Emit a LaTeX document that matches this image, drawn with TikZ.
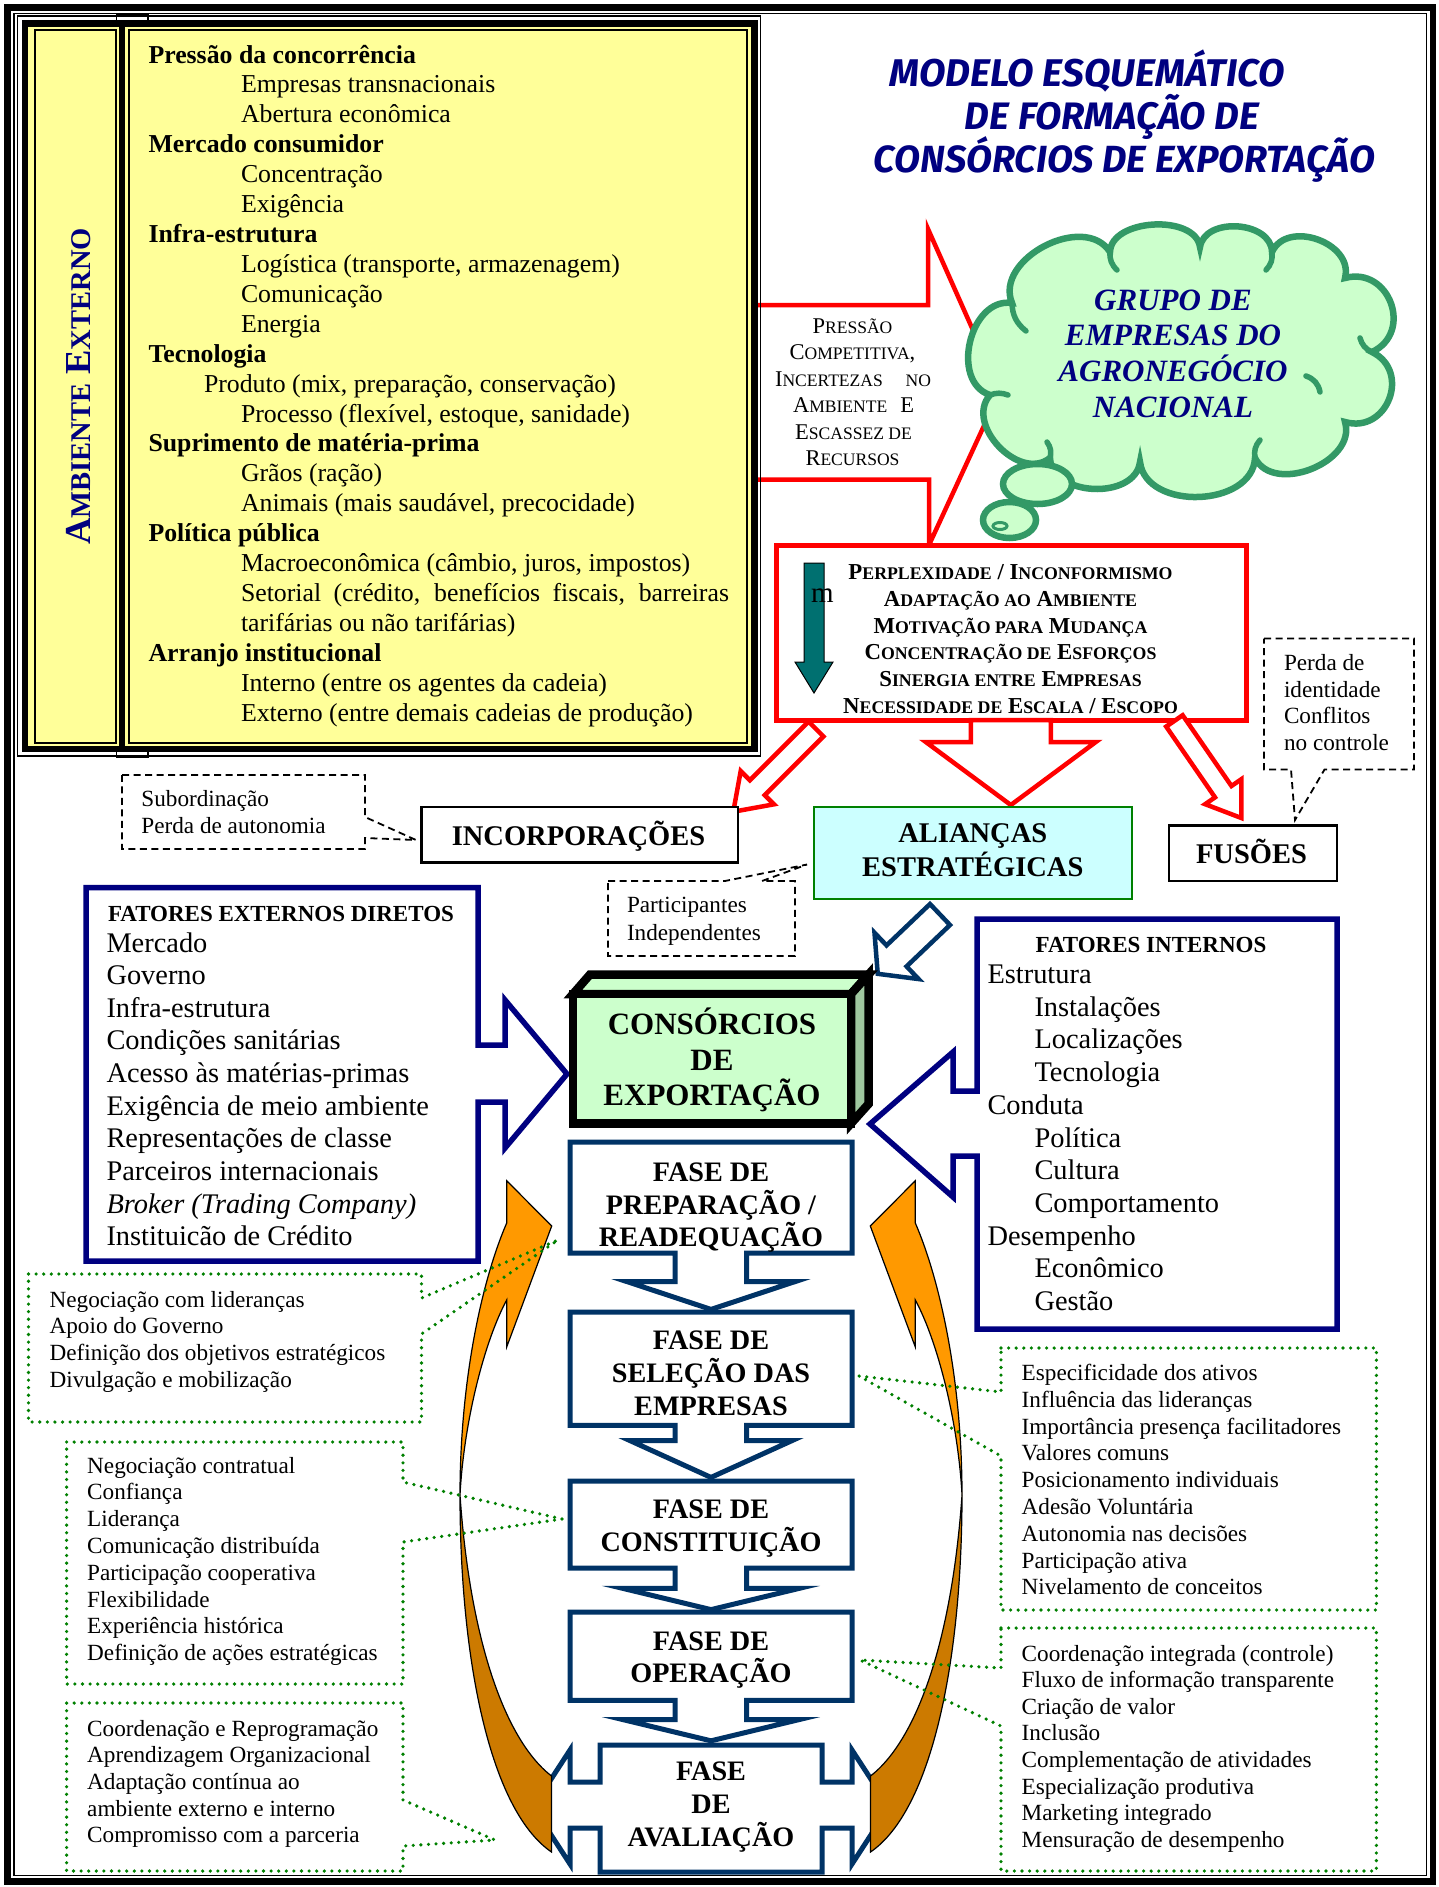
\documentclass[tikz,border=0pt]{standalone}
\usepackage{fontspec}
\setmainfont{Liberation Serif}
\newfontfamily\titlefont{Fira Sans}
\usepackage{graphicx}
\usetikzlibrary{calc}

\definecolor{navy}{RGB}{0,0,128}
\definecolor{phaseblue}{RGB}{0,51,102}
\definecolor{lightyellow}{RGB}{255,255,153}
\definecolor{cloudgreen}{RGB}{51,153,102}
\definecolor{palegreen}{RGB}{204,255,204}
\definecolor{sidegreen}{RGB}{160,200,160}
\definecolor{palecyan}{RGB}{204,255,255}
\definecolor{dotgreen}{RGB}{0,128,0}
\definecolor{tealarrow}{RGB}{0,112,112}
\definecolor{orangeA}{RGB}{255,153,0}
\definecolor{orangeB}{RGB}{204,122,0}

% fake small capitals (the serif font has no real ones)
\makeatletter
\newcommand\fsc[1]{{\fontsize{\fpeval{0.78*\f@size}}{0}\selectfont #1}}
\makeatother
\newcommand\fsz[1]{\fontsize{#1}{#1}\selectfont}

% block arrow: [style]{tail}{angle}{length}{shaft width}{head width}{head length}
\newcommand\blockarrow[7][]{%
  \draw[#1,shift={#2},rotate=#3] (0,-#5/2) -- ({#4-#7},-#5/2) -- ({#4-#7},-#6/2)
    -- (#4,0) -- ({#4-#7},#6/2) -- ({#4-#7},#5/2) -- (0,#5/2) -- cycle;}

\tikzset{
  t/.style={inner sep=0pt, outer sep=0pt},
  yl/.style={t, anchor=base west, font=\fsz{25.8}},
  lst/.style={t, anchor=base west, font=\fsz{28.4}},
  note/.style={t, anchor=base west, font=\fsz{23.2}},
  phasetxt/.style={t, anchor=base, font=\fsz{28.2}\bfseries},
  bigtxt/.style={t, anchor=base, font=\fsz{28.5}\bfseries},
  redtxt/.style={t, anchor=base, font=\fsz{22.8}\bfseries},
  arrtxt/.style={t, anchor=base, font=\fsz{22.5}},
  cloudtxt/.style={t, anchor=base, font=\fsz{31}\bfseries\itshape, text=navy},
  redline/.style={draw=red, line width=4.5pt, fill=white},
  phasebox/.style={draw=phaseblue, line width=5pt, fill=white},
  fatbox/.style={draw=navy, line width=5.5pt, fill=white},
  dotnote/.style={draw=dotgreen, line width=3.6pt, line cap=round, dash pattern=on 0pt off 7.6pt},
  dashnote/.style={draw=black, line width=1.8pt, dash pattern=on 7pt off 4.5pt},
  cloudline/.style={draw=cloudgreen, line width=6.5pt},
  cloudfold/.style={draw=cloudgreen, line width=5.5pt, line cap=round},
  orangeline/.style={draw=black, line width=1.2pt},
}

\begin{document}
\begin{tikzpicture}[x=1pt,y=-1pt]
\useasboundingbox (0,0) rectangle (1439,1887);
\fill[white] (0,0) rectangle (1439,1887);

% page frame
\draw[line width=6.5pt] (7.5,7.5) rectangle (1433,1881.5);
\draw[line width=1.5pt] (14,13.5) rectangle (1426.5,1875.5);

% big red arrow towards the cloud
\draw[redline] (745,305) -- (928,305) -- (928,229) -- (1000,391) -- (929,545) -- (929,479.5) -- (745,479.5);

% external environment panel
\draw[line width=1.2pt] (116.3,23) -- (116.3,14.5) -- (148,14.5) -- (148,23);
\draw[line width=1.2pt] (116.3,749) -- (116.3,757.5) -- (148,757.5) -- (148,749);
\draw[line width=1.5pt] (17.5,16) rectangle (760.5,756);
\draw[line width=6.5pt, fill=lightyellow] (25,23.5) rectangle (754.5,749);
\draw[line width=2pt] (34.5,29.5) rectangle (115.8,743);
\draw[line width=2pt] (128.5,29.5) rectangle (746.5,743);
\draw[line width=6pt] (122,23.5) -- (122,749);

\node[t, rotate=90, text=navy, font=\fsz{36.6}\bfseries] (ambiente) at (78.5,386.5)
  {A\fsc{MBIENTE} E\fsc{XTERNO}};

\foreach \dx/\tx [count=\i from 0] in {
  0/{\bfseries Pressão da concorrência},
  92.5/{Empresas transnacionais},
  92.5/{Abertura econômica},
  0/{\bfseries Mercado consumidor},
  92.5/{Concentração},
  92.5/{Exigência},
  0/{\bfseries Infra-estrutura},
  92.5/{Logística (transporte, armazenagem)},
  92.5/{Comunicação},
  92.5/{Energia},
  0/{\bfseries Tecnologia},
  55.5/{Produto (mix, preparação, conservação)},
  92.5/{Processo (flexível, estoque, sanidade)},
  0/{\bfseries Suprimento de matéria-prima},
  92.5/{Grãos (ração)},
  92.5/{Animais (mais saudável, precocidade)},
  0/{\bfseries Política pública},
  92.5/{Macroeconômica (câmbio, juros, impostos)},
  92.5/{\makebox[488pt][s]{Setorial (crédito, benefícios fiscais, barreiras}},
  92.5/{tarifárias ou não tarifárias)},
  0/{\bfseries Arranjo institucional},
  92.5/{Interno (entre os agentes da cadeia)},
  92.5/{Externo (entre demais cadeias de produção)}}
  \node[yl] (amb-\i) at (148.5+\dx, 63+\i*29.92) {\tx};

% title
\node[t, anchor=base, text=navy, font=\titlefont\bfseries\itshape] (title-1) at (1087,86)
  {\resizebox{395pt}{!}{MODELO ESQUEMÁTICO}};
\node[t, anchor=base, text=navy, font=\titlefont\bfseries\itshape] (title-2) at (1112,129)
  {\resizebox{294pt}{!}{DE FORMAÇÃO DE}};
\node[t, anchor=base, text=navy, font=\titlefont\bfseries\itshape] (title-3) at (1124.5,172)
  {\resizebox{501pt}{!}{CONSÓRCIOS DE EXPORTAÇÃO}};

% text carried by the red arrow
\node[arrtxt] (press-1) at (852.5,333) {P\fsc{RESSÃO}};
\node[arrtxt] (press-2) at (852.5,359.5) {C\fsc{OMPETITIVA},};
\node[arrtxt] (press-3) at (853,386) {\makebox[156pt][s]{I\fsc{NCERTEZAS} \fsc{NO}}};
\node[arrtxt] (press-4) at (853.5,412.5) {\makebox[121pt][s]{A\fsc{MBIENTE} E}};
\node[arrtxt] (press-5) at (853.5,439) {E\fsc{SCASSEZ DE}};
\node[arrtxt] (press-6) at (852.5,465.5) {R\fsc{ECURSOS}};

% thought cloud
\draw[cloudline, fill=palegreen]
 (990,395) to[bend left=85, looseness=1.15] (1012,303)
 to[bend left=85, looseness=1.1] (1110,252)
 to[bend left=85, looseness=0.95] (1200,247)
 to[bend left=85, looseness=1.1] (1272,252)
 to[bend left=85, looseness=1.2] (1345,278)
 to[bend left=85, looseness=1.5] (1372,352)
 to[bend left=85, looseness=1.5] (1345,422)
 to[bend left=85, looseness=1.1] (1255,458)
 to[bend left=85, looseness=1.1] (1140,462)
 to[bend left=85, looseness=1.1] (1050,458)
 to[bend left=85, looseness=1.15] (990,395) -- cycle;
% folds of the puffs seen inside the cloud
\draw[cloudfold] (1012,303) to[bend right=25] (1026,331);
\draw[cloudfold] (1110,252) to[bend right=25] (1117,270);
\draw[cloudfold] (1272,252) to[bend left=25] (1266,270);
\draw[cloudfold] (1372,352) to[bend left=25] (1360,338);
\draw[cloudfold] (1306,376) to[bend left=30] (1320,392);
\draw[cloudfold] (1255,458) to[bend left=25] (1260,440);
\draw[cloudfold] (1050,458) to[bend right=25] (1047,442);
\draw[cloudfold] (990,395) to[bend left=20] (1008,395);
\draw[cloudline, fill=palegreen] (1037.5,484) ellipse [x radius=34.5pt, y radius=20pt];
\draw[cloudline, fill=palegreen] (1009.5,520) ellipse [x radius=26.5pt, y radius=18pt];
\draw[draw=cloudgreen, line width=3pt, fill=palegreen] (1000,526) ellipse [x radius=7pt, y radius=3.5pt];
\node[cloudtxt] (grupo-1) at (1173,310) {GRUPO DE};
\node[cloudtxt] (grupo-2) at (1173,345.8) {EMPRESAS DO};
\node[cloudtxt] (grupo-3) at (1173,381.6) {AGRONEGÓCIO};
\node[cloudtxt] (grupo-4) at (1173,417.4) {NACIONAL};

% motivation box
\node[t, draw=red, line width=5pt, fill=white, minimum width=470pt, minimum height=175pt] (motiv) at (1011,632.5) {};
\filldraw[fill=tealarrow, draw=black, line width=1pt]
  (804,563) -- (824,563) -- (824,662) -- (833,662) -- (814,693) -- (795,662) -- (804,662) -- cycle;
\node[t, anchor=base west, font=\fsz{29}] (stray-m) at (811,602) {m};
\node[redtxt] (motiv-1) at (1010.5,579.5) {P\fsc{ERPLEXIDADE} / I\fsc{NCONFORMISMO}};
\node[redtxt] (motiv-2) at (1010.5,606) {A\fsc{DAPTAÇÃO AO} A\fsc{MBIENTE}};
\node[redtxt] (motiv-3) at (1010.5,633) {M\fsc{OTIVAÇÃO PARA} M\fsc{UDANÇA}};
\node[redtxt] (motiv-4) at (1010.5,659.8) {C\fsc{ONCENTRAÇÃO DE} E\fsc{SFORÇOS}};
\node[redtxt] (motiv-5) at (1010.5,686.3) {S\fsc{INERGIA ENTRE} E\fsc{MPRESAS}};
\node[redtxt] (motiv-6) at (1010.5,713) {N\fsc{ECESSIDADE DE} E\fsc{SCALA} / E\fsc{SCOPO}};

% three outcomes
\blockarrow[redline]{(816,729)}{225}{117}{21}{47}{34}
\blockarrow[redline]{(1010.8,720)}{-90}{85}{80}{170}{63}
\blockarrow[redline]{(1174.4,720.9)}{-55.4}{118}{20}{44}{32}

\node[t, draw=black, line width=2.5pt, fill=white, minimum width=316.5pt, minimum height=55.5pt] (incorp) at (579.75,834.75) {};
\node[bigtxt] (incorp-t) at (578.5,845) {INCORPORAÇÕES};
\node[t, draw=dotgreen, line width=2pt, fill=palecyan, minimum width=317.5pt, minimum height=92.5pt] (alianca) at (972.75,852.75) {};
\node[bigtxt] (alianca-1) at (972.8,842.4) {ALIANÇAS};
\node[bigtxt] (alianca-2) at (972.8,876) {ESTRATÉGICAS};
\node[t, draw=black, line width=2.5pt, fill=white, minimum width=168pt, minimum height=55.5pt] (fusoes) at (1253,853.25) {};
\node[bigtxt] (fusoes-t) at (1251.5,863.4) {FUSÕES};

% dashed remarks
\draw[dashnote] (122,775) -- (365,775) -- (365,817) -- (416,840) -- (365,838) -- (365,849) -- (122,849) -- cycle;
\node[note] (sub-1) at (141.4,806.6) {Subordinação};
\node[note] (sub-2) at (141.4,833.3) {Perda de autonomia};
\draw[dashnote] (608,881) -- (725,881) -- (807,864.5) -- (762,881) -- (795,881) -- (795,956) -- (608,956) -- cycle;
\node[note] (part-1) at (627,912.5) {Participantes};
\node[note] (part-2) at (627,940) {Independentes};
\draw[dashnote] (1264,638.5) -- (1414,638.5) -- (1414,769.5) -- (1324.5,769.5) -- (1295,820) -- (1291,769.5) -- (1264,769.5) -- cycle;
\node[note] (perda-1) at (1284,670) {Perda de};
\node[note] (perda-2) at (1284,697) {identidade};
\node[note] (perda-3) at (1284,723.7) {Conflitos};
\node[note] (perda-4) at (1284,750.3) {no controle};

% external and internal factors
\draw[fatbox] (86,887.5) -- (478,887.5) -- (478,1045) -- (505,1045) -- (505,1000) -- (567,1074)
  -- (505,1148) -- (505,1102) -- (478,1102) -- (478,1261) -- (86,1261) -- cycle;
\node[t, anchor=base west, font=\fsz{23}\bfseries] (fe-head) at (108,921) {FATORES EXTERNOS DIRETOS};
\foreach \tx [count=\i from 0] in {Mercado, Governo, Infra-estrutura, Condições sanitárias,
  Acesso às matérias-primas, Exigência de meio ambiente, Representações de classe,
  Parceiros internacionais, {\itshape Broker (Trading Company)}, Instituicão de Crédito}
  \node[lst] (fe-\i) at (106.5, 952+\i*32.65) {\tx};

\draw[fatbox] (977,919) -- (1337,919) -- (1337,1329) -- (977,1329) -- (977,1156) -- (953,1156)
  -- (953,1197) -- (870,1124) -- (953,1052) -- (953,1091) -- (977,1091) -- cycle;
\node[t, anchor=base, font=\fsz{23}\bfseries] (fi-head) at (1151,952.7) {FATORES INTERNOS};
\foreach \dx/\tx [count=\i from 0] in {0/Estrutura, 47/Instalações, 47/Localizações, 47/Tecnologia,
  0/Conduta, 47/Política, 47/Cultura, 47/Comportamento, 0/Desempenho, 47/Econômico, 47/Gestão}
  \node[lst] (fi-\i) at (987.5+\dx, 983.5+\i*32.7) {\tx};

% alliance feeds the consortium
\blockarrow[draw=phaseblue, line width=4.5pt, fill=white]{(940,914.5)}{223.6}{86}{29}{64}{26}

% consortium block
\draw[line width=8.5pt, fill=palegreen] (573,994) -- (590,974.5) -- (868.5,974.5) -- (851,994) -- cycle;
\draw[line width=8.5pt, fill=sidegreen] (851,994) -- (868.5,974.5) -- (868.5,1104) -- (851,1123.5) -- cycle;
\draw[line width=8.5pt, fill=palegreen] (573,994) rectangle (851,1123.5);
\node[t, anchor=base, font=\fsz{31}\bfseries] (cons-1) at (712,1034.3) {CONSÓRCIOS};
\node[t, anchor=base, font=\fsz{31}\bfseries] (cons-2) at (712,1070) {DE};
\node[t, anchor=base, font=\fsz{31}\bfseries] (cons-3) at (712,1105.7) {EXPORTAÇÃO};

% phases
\draw[phasebox] (570,1142) -- (852,1142) -- (852,1253) -- (746.7,1253) -- (746.7,1281.6) -- (795,1281.6)
  -- (711,1309.4) -- (627,1281.6) -- (675,1281.6) -- (675,1253) -- (570,1253) -- cycle;
\draw[phasebox] (570,1312) -- (852,1312) -- (852,1425.4) -- (746.7,1425.4) -- (746.7,1440.6) -- (792,1440.6)
  -- (711,1477.4) -- (630,1440.6) -- (675,1440.6) -- (675,1425.4) -- (570,1425.4) -- cycle;
\draw[phasebox] (570,1481) -- (852,1481) -- (852,1568.2) -- (746.7,1568.2) -- (746.7,1588.4) -- (799,1588.4)
  -- (711,1609.6) -- (623,1588.4) -- (675,1588.4) -- (675,1568.2) -- (570,1568.2) -- cycle;
\draw[phasebox] (570,1612) -- (852,1612) -- (852,1700.4) -- (746.7,1700.4) -- (746.7,1719.6) -- (799,1719.6)
  -- (711,1740.8) -- (623,1719.6) -- (675,1719.6) -- (675,1700.4) -- (570,1700.4) -- cycle;
\draw[phasebox] (600,1745) -- (822,1745) -- (822,1782) -- (852,1782) -- (852,1750) -- (889,1807)
  -- (852,1864) -- (852,1828) -- (822,1828) -- (822,1872) -- (600,1872) -- (600,1828) -- (570,1828)
  -- (570,1864) -- (533,1807) -- (570,1750) -- (570,1782) -- (600,1782) -- cycle;

\node[phasetxt] (p1-1) at (711,1181) {FASE DE};
\node[phasetxt] (p1-2) at (711,1214) {PREPARAÇÃO /};
\node[phasetxt] (p1-3) at (711,1246.5) {READEQUAÇÃO};
\node[phasetxt] (p2-1) at (711,1349.3) {FASE DE};
\node[phasetxt] (p2-2) at (711,1382.6) {SELEÇÃO DAS};
\node[phasetxt] (p2-3) at (711,1415.3) {EMPRESAS};
\node[phasetxt] (p3-1) at (711,1518) {FASE DE};
\node[phasetxt] (p3-2) at (711,1551.3) {CONSTITUIÇÃO};
\node[phasetxt] (p4-1) at (711,1650) {FASE DE};
\node[phasetxt] (p4-2) at (711,1682.5) {OPERAÇÃO};
\node[phasetxt] (p5-1) at (711,1780) {FASE};
\node[phasetxt] (p5-2) at (711,1813.7) {DE};
\node[phasetxt] (p5-3) at (711,1846.3) {AVALIAÇÃO};

% feedback loops, left and mirrored right
\foreach \mir in {0,1} {
\begin{scope}[shift={(1422*\mir,0)}, xscale=1-2*\mir]
\filldraw[orangeline, fill=orangeB] (460,1495) .. controls (460,1660) and (490,1810) .. (551.5,1852)
  -- (551.5,1776) .. controls (505,1740) and (470,1640) .. (460,1495) -- cycle;
\filldraw[orangeline, fill=orangeA] (460,1495) .. controls (460,1380) and (482,1280) .. (506.7,1223)
  -- (506.7,1180.7) -- (551.7,1226) -- (506.7,1347) -- (506.7,1300)
  .. controls (485,1340) and (464,1420) .. (460,1495) -- cycle;
\end{scope}}

% dotted remarks on the phases
\draw[dotnote] (28.5,1274) -- (421.5,1274) -- (421.5,1298) -- (558,1240) -- (421.5,1334) -- (421.5,1422) -- (28.5,1422) -- cycle;
\foreach \tx [count=\i from 0] in {Negociação com lideranças, Apoio do Governo,
  Definição dos objetivos estratégicos, Divulgação e mobilização}
  \node[note] (na-\i) at (49.6, 1307+\i*26.8) {\tx};

\draw[dotnote] (66.6,1442) -- (403,1442) -- (403,1482) -- (562,1519) -- (403,1542) -- (403,1684) -- (66.6,1684) -- cycle;
\foreach \tx [count=\i from 0] in {Negociação contratual, Confiança, Liderança, Comunicação distribuída,
  Participação cooperativa, Flexibilidade, Experiência histórica, Definição de ações estratégicas}
  \node[note] (nb-\i) at (87.2, 1473+\i*26.8) {\tx};

\draw[dotnote] (66.6,1703) -- (403,1703) -- (403,1800) -- (495,1840) -- (403,1846) -- (403,1871) -- (66.6,1871) -- cycle;
\foreach \tx [count=\i from 0] in {Coordenação e Reprogramação, Aprendizagem Organizacional,
  Adaptação contínua ao, ambiente externo e interno, Compromisso com a parceria}
  \node[note] (nc-\i) at (87.2, 1736+\i*26.7) {\tx};

\draw[dotnote] (1001,1348) -- (1376.4,1348) -- (1376.4,1610) -- (1001,1610) -- (1001,1456) -- (859,1376) -- (1001,1392) -- cycle;
\foreach \tx [count=\i from 0] in {Especificidade dos ativos, Influência das lideranças,
  Importância presença facilitadores, Valores comuns, Posicionamento individuais, Adesão Voluntária,
  Autonomia nas decisões, Participação ativa, Nivelamento de conceitos}
  \node[note] (nd-\i) at (1021.7, 1380.5+\i*26.8) {\tx};

\draw[dotnote] (1001,1628) -- (1376.4,1628) -- (1376.4,1871) -- (1001,1871) -- (1001,1726) -- (860,1660) -- (1001,1668) -- cycle;
\foreach \tx [count=\i from 0] in {Coordenação integrada (controle), Fluxo de informação transparente,
  Criação de valor, Inclusão, Complementação de atividades, Especialização produtiva,
  Marketing integrado, Mensuração de desempenho}
  \node[note] (ne-\i) at (1021.7, 1661+\i*26.6) {\tx};

\end{tikzpicture}
\end{document}
